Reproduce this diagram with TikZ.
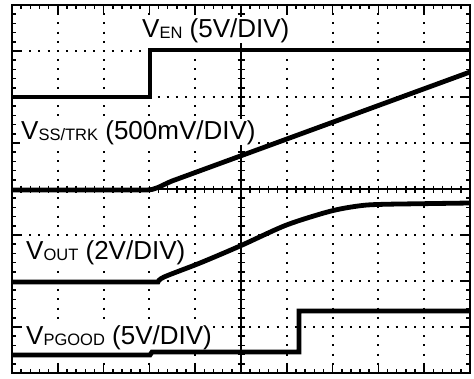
\documentclass[tikz,border=0pt]{standalone}
\usepackage{fontspec}
\setmainfont{Liberation Sans}

% channel label: V with a small subscript, then the scale
\newcommand{\chlabel}[2]{V\raisebox{-1.5pt}{\fontsize{16.5}{18}\selectfont #1}\ (#2)}

\tikzset{
	frame/.style={line width=2pt},
	axis/.style={line width=1.5pt},
	tick/.style={line width=1.5pt},
	vdots/.style={line width=2pt,dash pattern=on 2pt off 7.2pt,dash phase=1pt},
	hdots/.style={line width=2pt,dash pattern=on 2pt off 7.16pt,dash phase=1pt},
	trace/.style={line width=4.8pt,line join=miter},
	chname/.style={anchor=base west,fill=white,inner sep=1pt,font=\fontsize{26}{30}\selectfont}
}

\begin{document}
\begin{tikzpicture}[x=1pt,y=-1pt]
		\useasboundingbox (0,0) rectangle (474,378);
		
		% dotted grid
		\foreach \k in {1,2,3,4,6,7,8,9}
			\draw[vdots] ({12+45.8*\k},5) -- ({12+45.8*\k},373);
		\foreach \k in {1,2,3,5,6,7}
			\draw[hdots] (12,{5+46*\k}) -- (470,{5+46*\k});
		
		% centre axes
		\draw[axis] (241,5) -- (241,373);
		\draw[axis] (12,189) -- (470,189);
		
		% ticks on the frame and on the axes
		\foreach \i in {1,...,49}{
			\pgfmathsetmacro{\xx}{12+9.16*\i}
			\pgfmathsetmacro{\tl}{mod(\i,5)==0 ? 8 : 4}
			\draw[tick] (\xx,5) -- ++(0,\tl);
			\draw[tick] (\xx,373) -- ++(0,-\tl);
			\draw[tick] (\xx,185.5) -- (\xx,192.5);
		}
		\foreach \i in {1,...,39}{
			\pgfmathsetmacro{\yy}{5+9.2*\i}
			\pgfmathsetmacro{\tl}{mod(\i,5)==0 ? 8 : 4}
			\draw[tick] (12,\yy) -- ++(\tl,0);
			\draw[tick] (470,\yy) -- ++(-\tl,0);
			\draw[tick] (237.5,\yy) -- (244.5,\yy);
		}
		
		\draw[frame] (12,5) rectangle (470,373);
		
		% channel names
		\node[chname] (en) at (141,37) {\chlabel{EN}{5V/DIV}};
		\node[chname] (ss) at (20,139) {\chlabel{SS/TRK}{500mV/DIV}};
		\node[chname] (out) at (25,259) {\chlabel{OUT}{2V/DIV}};
		\node[chname] (pgood) at (25,344) {\chlabel{PGOOD}{5V/DIV}};
		
		% traces
		\draw[trace] (12,97) -- (150,97) -- (150,50) -- (470,50);
		\draw[trace] (12,190) -- (146,190) .. controls (156,190) and (160,186) .. (172,181) -- (470,72);
		\draw[trace] (12,282) -- (158,282) -- plot[smooth] coordinates {(158,282) (164,277) (200,263) (240,246) (284,226) (317,215) (340,209) (367,205) (400,204)} -- (470,203);
		\draw[trace] (12,355) -- (150,355) -- (152,352) -- (299,352) -- (299,311) -- (470,311);
	\end{tikzpicture}
\end{document}
